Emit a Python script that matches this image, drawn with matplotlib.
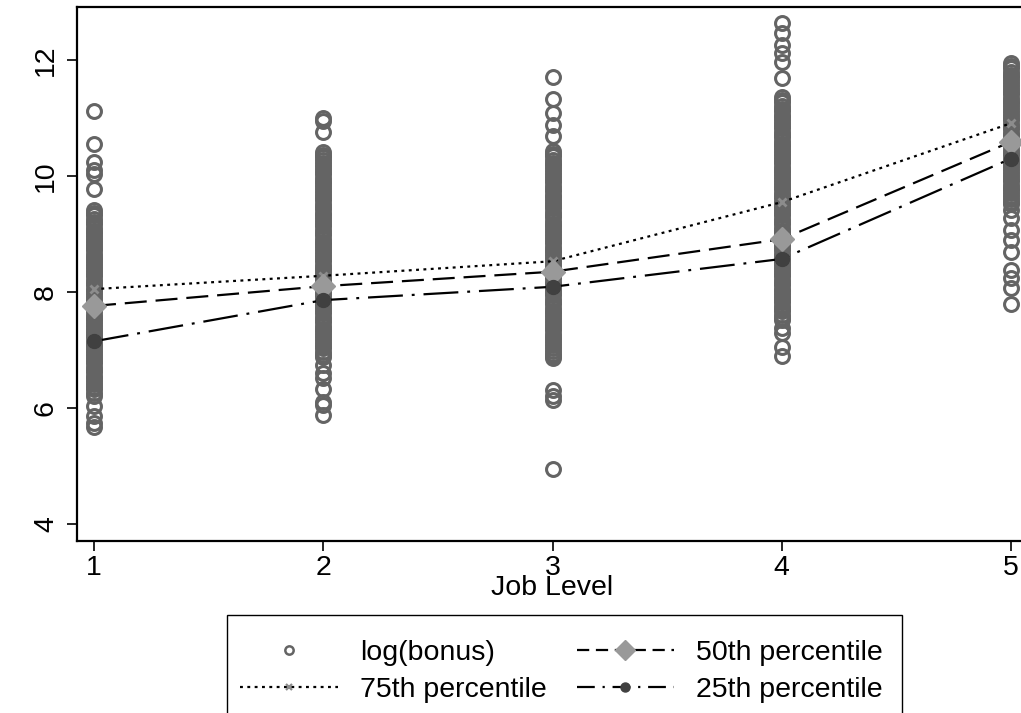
"""Log bonus by job level with 25th/50th/75th percentile lines."""

import matplotlib
matplotlib.use("Agg")
import matplotlib.pyplot as plt
from matplotlib.lines import Line2D
from matplotlib.patches import Rectangle

plt.rcParams["font.family"] = ["Liberation Sans", "DejaVu Sans"]

levels = [1, 2, 3, 4, 5]

# log(bonus) observations read off each column; the solid parts of the
# columns are packed with readings so the circles merge like in the original
bonus_l1 = [11.12, 10.56, 10.24, 10.10, 10.04, 9.77,
            9.41, 9.36, 9.32, 9.26, 9.21, 9.17, 9.11, 9.06, 9.02, 8.96,
            8.91, 8.87, 8.81, 8.76, 8.72, 8.66, 8.61, 8.57, 8.51, 8.46,
            8.42, 8.36, 8.31, 8.27, 8.21, 8.16, 8.12, 8.06, 8.01, 7.97,
            7.91, 7.86, 7.82, 7.76, 7.71, 7.67, 7.61, 7.56, 7.52, 7.46,
            7.41, 7.37, 7.31, 7.26, 7.22, 7.16, 7.11, 7.07, 7.01, 6.96,
            6.92, 6.86, 6.81, 6.77, 6.71, 6.66, 6.62, 6.56, 6.51, 6.47,
            6.41, 6.36, 6.32, 6.26, 6.21,
            6.04, 5.87, 5.74, 5.67]
bonus_l2 = [11.00, 10.94, 10.76,
            10.42, 10.37, 10.33, 10.27, 10.22, 10.18, 10.12, 10.07, 10.03,
            9.97, 9.92, 9.88, 9.82, 9.77, 9.73, 9.67, 9.62, 9.58, 9.52,
            9.47, 9.43, 9.37, 9.32, 9.28, 9.22, 9.17, 9.13, 9.07, 9.02,
            8.98, 8.92, 8.87, 8.83, 8.77, 8.72, 8.68, 8.62, 8.57, 8.53,
            8.47, 8.42, 8.38, 8.32, 8.27, 8.23, 8.17, 8.12, 8.08, 8.02,
            7.97, 7.93, 7.87, 7.82, 7.78, 7.72, 7.67, 7.63, 7.57, 7.52,
            7.48, 7.42, 7.37, 7.33, 7.27, 7.22, 7.18, 7.12, 7.07, 7.03,
            6.97, 6.92, 6.88,
            6.74, 6.60, 6.52, 6.33, 6.10, 6.05, 5.88]
bonus_l3 = [11.70, 11.33, 11.08, 10.88, 10.69,
            10.43, 10.38, 10.34, 10.28, 10.23, 10.19, 10.13, 10.08, 10.04,
            9.98, 9.93, 9.89, 9.83, 9.78, 9.74, 9.68, 9.63, 9.59, 9.53,
            9.48, 9.44, 9.38, 9.33, 9.29, 9.23, 9.18, 9.14, 9.08, 9.03,
            8.99, 8.93, 8.88, 8.84, 8.78, 8.73, 8.69, 8.63, 8.58, 8.54,
            8.48, 8.43, 8.39, 8.33, 8.28, 8.24, 8.18, 8.13, 8.09, 8.03,
            7.98, 7.94, 7.88, 7.83, 7.79, 7.73, 7.68, 7.64, 7.58, 7.53,
            7.49, 7.43, 7.38, 7.34, 7.28, 7.23, 7.19, 7.13, 7.08, 7.04,
            6.98, 6.93, 6.89, 6.86,
            6.31, 6.20, 6.14, 4.95]
bonus_l4 = [12.63, 12.47, 12.26, 12.12, 11.97, 11.69,
            11.36, 11.31, 11.27, 11.21, 11.16, 11.12, 11.06, 11.01, 10.97,
            10.91, 10.86, 10.82, 10.76, 10.71, 10.67, 10.61, 10.56, 10.52,
            10.46, 10.41, 10.37, 10.31, 10.26, 10.22, 10.16, 10.11, 10.07,
            10.01, 9.96, 9.92, 9.86, 9.81, 9.77, 9.71, 9.66, 9.62, 9.56,
            9.51, 9.47, 9.41, 9.36, 9.32, 9.26, 9.21, 9.17, 9.11, 9.06,
            9.02, 8.96, 8.91, 8.87, 8.81, 8.76, 8.72, 8.66, 8.61, 8.57,
            8.51, 8.46, 8.42, 8.36, 8.31, 8.27, 8.21, 8.16, 8.12, 8.06,
            8.01, 7.97, 7.91, 7.86, 7.82, 7.76, 7.71, 7.67, 7.61, 7.56,
            7.52,
            7.38, 7.29, 7.05, 6.89]
bonus_l5 = [11.95, 11.90, 11.86, 11.80, 11.75, 11.71, 11.65, 11.60,
            11.56, 11.50, 11.45, 11.41, 11.35, 11.30, 11.26, 11.20, 11.15,
            11.11, 11.05, 11.00, 10.96, 10.90, 10.85, 10.81, 10.75, 10.70,
            10.66, 10.60, 10.55, 10.51, 10.45, 10.40, 10.36, 10.30, 10.25,
            10.21, 10.15, 10.10, 10.06, 10.00, 9.95, 9.91, 9.85, 9.80,
            9.76, 9.70, 9.65, 9.61, 9.55, 9.52,
            9.41, 9.28, 9.07, 8.90, 8.69, 8.38, 8.24, 8.07, 7.80]
bonus_by_level = [bonus_l1, bonus_l2, bonus_l3, bonus_l4, bonus_l5]

p75 = [8.05, 8.28, 8.53, 9.55, 10.91]
p50 = [7.76, 8.10, 8.35, 8.91, 10.59]
p25 = [7.15, 7.86, 8.09, 8.57, 10.30]

CIRCLE = "#646464"
FS = 20.5

fig = plt.figure(figsize=(10.21, 7.13), dpi=100)
ax = fig.add_axes([77 / 1021, 1 - 541 / 713, (1028 - 77) / 1021, (541 - 7) / 713])

for lvl, vals in zip(levels, bonus_by_level):
    ax.plot([lvl] * len(vals), vals, linestyle="none", marker="o", ms=10,
            mfc="none", mec=CIRCLE, mew=2.2, zorder=2)

lw = 1.6
ax.plot(levels, p75, color="black", lw=lw, dashes=(1.3, 2.0), marker="x",
        ms=6, mec="#8c8c8c", mew=2.0, zorder=3)
ax.plot(levels, p50, color="black", lw=lw, dashes=(9.9, 4.0), marker="D",
        ms=12, mfc="#999999", mec="#999999", zorder=4)
ax.plot(levels, p25, color="black", lw=lw, dashes=(15.7, 4.0, 1.3, 4.0),
        marker="o", ms=10, mfc="#404040", mec="#404040", zorder=4)

ax.set_xlim(0.9258, 5.0742)
ax.set_ylim(3.707, 12.914)
ax.set_xticks(levels)
ax.set_yticks([4, 6, 8, 10, 12])
ax.tick_params(axis="both", length=7, width=1.2, labelsize=FS)
ax.tick_params(axis="y", pad=6)
ax.tick_params(axis="x", pad=3)
plt.setp(ax.get_yticklabels(), rotation=90, va="center")
ax.set_xlabel("Job Level", fontsize=FS, labelpad=-4)
for side in ["top", "left", "bottom", "right"]:
    ax.spines[side].set_linewidth(1.6)

# legend with proxy handles sized like the reference
handles = [
    Line2D([], [], linestyle="none", marker="o", ms=6, mfc="none",
           mec=CIRCLE, mew=1.8),
    Line2D([], [], color="black", lw=lw, dashes=(1.3, 2.0), marker="x",
           ms=4, mec="#8c8c8c", mew=1.6),
    Line2D([], [], color="black", lw=lw, dashes=(5.5, 3.0), marker="D",
           ms=10, mfc="#999999", mec="#999999"),
    Line2D([], [], color="black", lw=lw, dashes=(8.0, 3.5, 1.0, 3.5),
           marker="o", ms=6.5, mfc="#404040", mec="#404040"),
]
labels = ["log(bonus)", "75th percentile", "50th percentile", "25th percentile"]
fig.legend(handles, labels, ncol=2, frameon=False, fontsize=FS,
           loc="upper left", bbox_to_anchor=(240 / 1021, 1 - 640 / 713),
           handlelength=3.44, handletextpad=0.77, columnspacing=1.05,
           labelspacing=0.38, borderpad=0.0, borderaxespad=0.0)
fig.patches.append(Rectangle((227 / 1021, -0.05), (902 - 227) / 1021,
                             (713 - 615) / 713 + 0.05, transform=fig.transFigure,
                             fill=False, edgecolor="black", lw=1.0))

fig.savefig("out.png", dpi=100)
